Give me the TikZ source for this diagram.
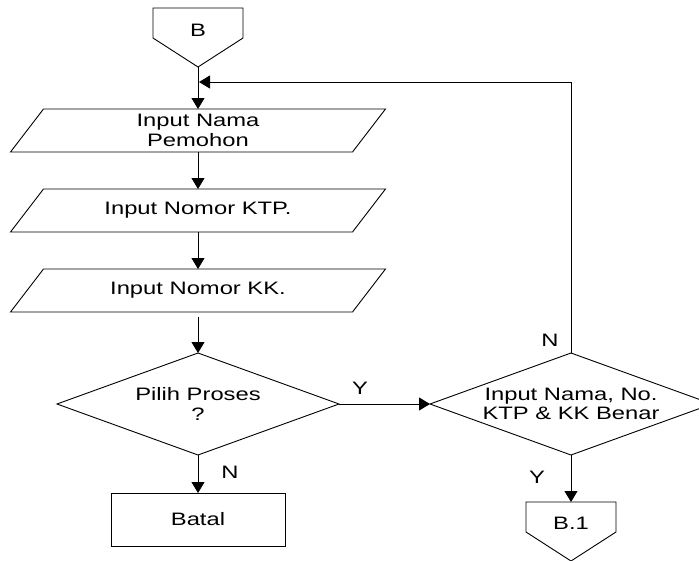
\documentclass[tikz,border=0pt]{standalone}
\usepackage{fontspec}
\setmainfont{Liberation Sans}[FakeStretch=1.32]
\usetikzlibrary{arrows.meta,shapes.geometric}

\tikzset{
	txt/.style={font=\fontsize{18}{19.5}\selectfont, align=center, inner sep=0pt, outer sep=0pt},
	io/.style={txt, minimum width=342, minimum height=43},
	choice/.style={txt, draw, diamond, aspect=2.76, minimum width=282, minimum height=102},
	proc/.style={txt, draw, minimum width=174, minimum height=53},
	flow/.style={-{Triangle[length=11pt,width=13pt]}}
}

\begin{document}
\begin{tikzpicture}[x=1pt, y=-1pt, line width=0.9pt]
	\useasboundingbox (0,0) rectangle (699,560);
	\draw (153,8) -- (243,8) -- (243,38) -- (198,67) coordinate (B-tip) -- (153,38) -- cycle;
	\node[txt] (B) at (198,30) {B};
	\node[io] (nama) at (198,130.5) {Input Nama\\Pemohon};
	\node[io] (ktp) at (198,210.5) {Input Nomor KTP.};
	\node[io] (kk) at (198,290.5) {Input Nomor KK.};
	\foreach \p in {nama,ktp,kk}
		\draw ([xshift=16.5pt]\p.north west) -- ([xshift=16.5pt]\p.north east) -- ([xshift=-16.5pt]\p.south east) -- ([xshift=-16.5pt]\p.south west) -- cycle;
	\node[choice] (proses) at (198,404) {Pilih Proses\\?};
	\node[proc] (batal) at (198,519.5) {Batal};
	\node[choice] (cek) at (571,404) {Input Nama, No.\\KTP \& KK Benar};
	\draw (526,502) coordinate (B1-top) -- (616,502) -- (616,532) -- (571,561) -- (526,532) -- cycle;
	\node[txt] (B1) at (571,523) {B.1};
	\coordinate (join) at (199,82);
	\node[txt] (yproses) at (360,388) {Y};
	\node[txt] (nproses) at (230,472) {N};
	\node[txt] (ncek) at (550,340) {N};
	\node[txt] (ycek) at (537,477) {Y};
	\draw[flow] (B-tip) -- (nama.north);
	\draw[flow] (nama.south) -- (ktp.north);
	\draw[flow] (ktp.south) -- (kk.north);
	\draw[flow, shorten <=5pt] (kk.south) -- (proses.north);
	\draw[flow] (proses.south) -- (batal.north);
	\draw[flow] (proses.east) -- (cek.west);
	\draw[flow] (cek.south) -- (cek.south |- B1-top);
	\draw[flow] (cek.north) |- (join);
\end{tikzpicture}
\end{document}
